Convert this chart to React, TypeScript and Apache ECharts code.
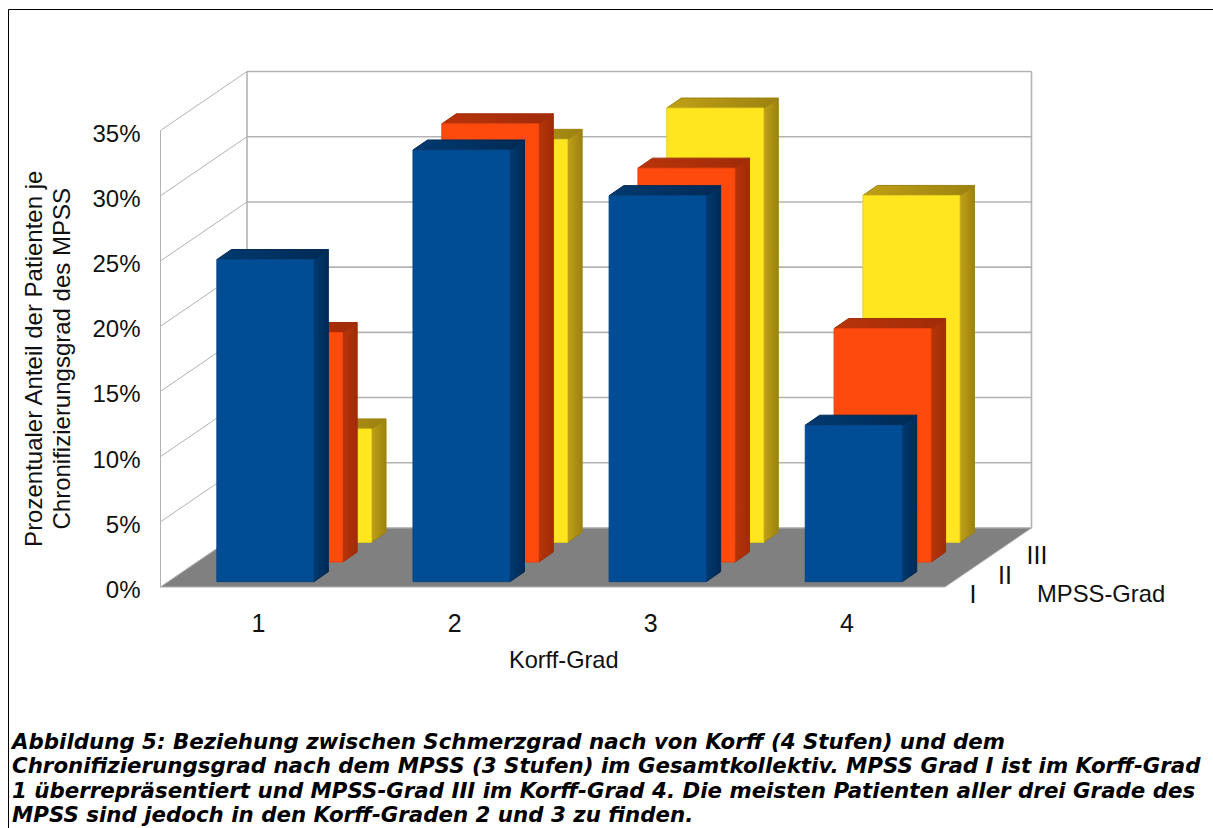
import React, { useEffect, useRef } from "react";
import * as echarts from "echarts";

// Share of patients (%) per Korff grade, one list per MPSS grade
const korffGrades = ["1", "2", "3", "4"];
const mpssGrades = ["I", "II", "III"];
const mpssI = [24.7, 33.1, 29.6, 12.0];
const mpssII = [17.6, 33.6, 30.2, 17.9];
const mpssIII = [8.7, 30.9, 33.3, 26.6];
const valueTicks = [0, 5, 10, 15, 20, 25, 30, 35];
const captionLines = [
  "Abbildung 5: Beziehung zwischen Schmerzgrad nach von Korff (4 Stufen) und dem",
  "Chronifizierungsgrad nach dem MPSS (3 Stufen) im Gesamtkollektiv. MPSS Grad I ist im Korff-Grad",
  "1 überrepräsentiert und MPSS-Grad III im Korff-Grad 4. Die meisten Patienten aller drei Grade des",
  "MPSS sind jedoch in den Korff-Graden 2 und 3 zu finden.",
];

const FONT = '"Liberation Sans", Arial, sans-serif';
const TEXT = "#111111";
const WALL = "#b3b3b3";
const DEPTH_X = 86.5;
const DEPTH_Y = 59;
const SLOT_X = DEPTH_X / 3;
const SLOT_Y = DEPTH_Y / 3;
const BAR_W = 97;
const BAR_DX = 14.5;
const BAR_DY = 10;

const palette = [
  { front: "#004d96", edge: "#0a4480", sideA: "#003a70", sideB: "#002a55" },
  { front: "#ff4a0e", edge: "#e8440f", sideA: "#b8340a", sideB: "#a02c08" },
  { front: "#ffe61f", edge: "#e8cf20", sideA: "#bfa016", sideB: "#9c8210" },
];

// Wall grid: one bent line per value tick, running along the side wall and the back wall
const wallItem = (params: any, api: any) => {
  const v = api.value(1);
  const y = api.coord([0, v])[1];
  const cs = params.coordSys;
  const x0 = cs.x;
  const x1 = cs.x + cs.width;
  const line = (x1a: number, y1a: number, x2a: number, y2a: number, w: number) => ({
    type: "line",
    shape: { x1: x1a, y1: y1a, x2: x2a, y2: y2a },
    style: { stroke: WALL, lineWidth: w, fill: "none" },
    silent: true,
  });
  const children: any[] = [
    line(x0, y, x0 + DEPTH_X, y - DEPTH_Y, 1),
    line(x0 + DEPTH_X, y - DEPTH_Y, x1 + DEPTH_X, y - DEPTH_Y, 1.6),
  ];
  if (v === 0) {
    const top = api.coord([0, 35])[1];
    children.push(line(x0, y, x0, top, 1));
    children.push(line(x0 + DEPTH_X, y - DEPTH_Y, x0 + DEPTH_X, top - DEPTH_Y, 1.6));
    children.push(line(x1 + DEPTH_X, y - DEPTH_Y, x1 + DEPTH_X, top - DEPTH_Y, 1.6));
  }
  return { type: "group", children };
};

// Floor of the box, spanning the plot width and the depth of all three rows
const floorItem = (params: any, api: any) => {
  const y = api.coord([0, 0])[1];
  const cs = params.coordSys;
  const x0 = cs.x;
  const x1 = cs.x + cs.width;
  return {
    type: "polygon",
    shape: {
      points: [
        [x0, y],
        [x1, y],
        [x1 + DEPTH_X, y - DEPTH_Y],
        [x0 + DEPTH_X, y - DEPTH_Y],
      ],
    },
    style: { fill: "#808080", stroke: WALL, lineWidth: 1 },
    silent: true,
  };
};

// A box standing on the floor: front face, right side and top face
const barItem = (row: number) => (_params: any, api: any) => {
  const cat = api.value(0);
  const val = api.value(1);
  const [cx, y0] = api.coord([cat, 0]);
  const yV = api.coord([cat, val])[1];
  const colors = palette[row];
  const left = cx - BAR_W / 2 + 6.8 + SLOT_X * row;
  const right = left + BAR_W;
  const bottom = y0 - 5.3 - SLOT_Y * row;
  const top = bottom - (y0 - yV);
  const shade = () =>
    new echarts.graphic.LinearGradient(0, 0, 1, 0, [
      { offset: 0, color: colors.sideA },
      { offset: 1, color: colors.sideB },
    ]);
  const poly = (points: number[][], fill: any, stroke: any) => ({
    type: "polygon",
    shape: { points },
    style: { fill, stroke, lineWidth: 1, lineJoin: "round" },
  });
  return {
    type: "group",
    children: [
      poly(
        [
          [right, top],
          [right + BAR_DX, top - BAR_DY],
          [right + BAR_DX, bottom - BAR_DY],
          [right, bottom],
        ],
        shade(),
        colors.sideB,
      ),
      poly(
        [
          [left, top],
          [left + BAR_DX, top - BAR_DY],
          [right + BAR_DX, top - BAR_DY],
          [right, top],
        ],
        shade(),
        colors.sideB,
      ),
      poly(
        [
          [left, top],
          [right, top],
          [right, bottom],
          [left, bottom],
        ],
        colors.front,
        colors.edge,
      ),
    ],
  };
};

// Depth axis labels next to the right edge of the floor
const depthLabelItem = (params: any, api: any) => {
  const row = api.value(0);
  const y = api.coord([0, 0])[1];
  const cs = params.coordSys;
  return {
    type: "text",
    style: {
      x: cs.x + cs.width + 28 + row * 32,
      y: y + 7 - row * 19.5,
      text: mpssGrades[row],
      font: `25px ${FONT}`,
      fill: TEXT,
      align: "center",
      verticalAlign: "middle",
    },
    silent: true,
  };
};

function buildOption() {
  const rows = [mpssI, mpssII, mpssIII];
  const barSeries = [2, 1, 0].map((row) => ({
    type: "custom",
    name: `MPSS ${mpssGrades[row]}`,
    coordinateSystem: "cartesian2d",
    renderItem: barItem(row),
    clip: false,
    encode: { x: 0, y: 1 },
    data: rows[row].map((v, i) => [i, v]),
  }));

  return {
    animation: false,
    backgroundColor: "#ffffff",
    tooltip: { show: false },
    grid: { left: 160.5, top: 130.5, width: 784.5, height: 456.5 },
    xAxis: {
      type: "category",
      data: korffGrades,
      boundaryGap: true,
      axisLine: { show: false },
      axisTick: { show: false },
      axisLabel: { color: TEXT, fontFamily: FONT, fontSize: 25, margin: 23 },
      name: "Korff-Grad",
      nameLocation: "middle",
      nameGap: 61,
      nameTextStyle: { color: TEXT, fontFamily: FONT, fontSize: 23.6, padding: [0, 0, 0, 22] },
    },
    yAxis: {
      type: "value",
      min: 0,
      max: 35,
      interval: 5,
      splitLine: { show: false },
      axisLine: { show: false },
      axisTick: { show: false },
      axisLabel: {
        margin: 20,
        formatter: (v: number) => `{tick|${v}%}`,
        rich: {
          // Top padding drops the label slightly below its grid line
          tick: { color: TEXT, fontFamily: FONT, fontSize: 24, padding: [5, 0, 0, 0] },
        },
      },
      name: "Prozentualer Anteil der Patienten je\nChronifizierungsgrad des MPSS",
      nameLocation: "middle",
      nameRotate: 90,
      nameGap: 85,
      nameTextStyle: { color: TEXT, fontFamily: FONT, fontSize: 24, lineHeight: 28, align: "center" },
    },
    series: [
      {
        type: "custom",
        coordinateSystem: "cartesian2d",
        renderItem: wallItem,
        clip: false,
        silent: true,
        data: valueTicks.map((v) => [0, v]),
      },
      {
        type: "custom",
        coordinateSystem: "cartesian2d",
        renderItem: floorItem,
        clip: false,
        silent: true,
        data: [[0, 0]],
      },
      ...barSeries,
      {
        type: "custom",
        coordinateSystem: "cartesian2d",
        renderItem: depthLabelItem,
        clip: false,
        silent: true,
        data: mpssGrades.map((_, i) => [i, 0]),
      },
    ],
    graphic: [
      // Frame around the figure; its right and bottom sides run off the page
      { type: "line", shape: { x1: 8.5, y1: 9.5, x2: 1213, y2: 9.5 }, style: { stroke: "#000", lineWidth: 1 } },
      { type: "line", shape: { x1: 8.5, y1: 9.5, x2: 8.5, y2: 828 }, style: { stroke: "#000", lineWidth: 1 } },
      {
        type: "text",
        left: 1037,
        top: 581,
        style: { text: "MPSS-Grad", font: `23.8px ${FONT}`, fill: TEXT },
      },
      ...captionLines.map((line, i) => ({
        type: "text",
        left: 12,
        top: 731 + i * 24.4,
        style: {
          text: line,
          font: 'italic bold 21.35px "DejaVu Sans", sans-serif',
          fill: "#000",
        },
      })),
    ],
  };
}

export default function App() {
  const ref = useRef<HTMLDivElement>(null);
  useEffect(() => {
    document.body.style.margin = "0";
    const chart = echarts.init(ref.current!, undefined, { renderer: "svg" });
    chart.setOption(buildOption() as any);
    return () => chart.dispose();
  }, []);
  return <div ref={ref} style={{ width: 1213, height: 828, background: "#fff" }} />;
}
